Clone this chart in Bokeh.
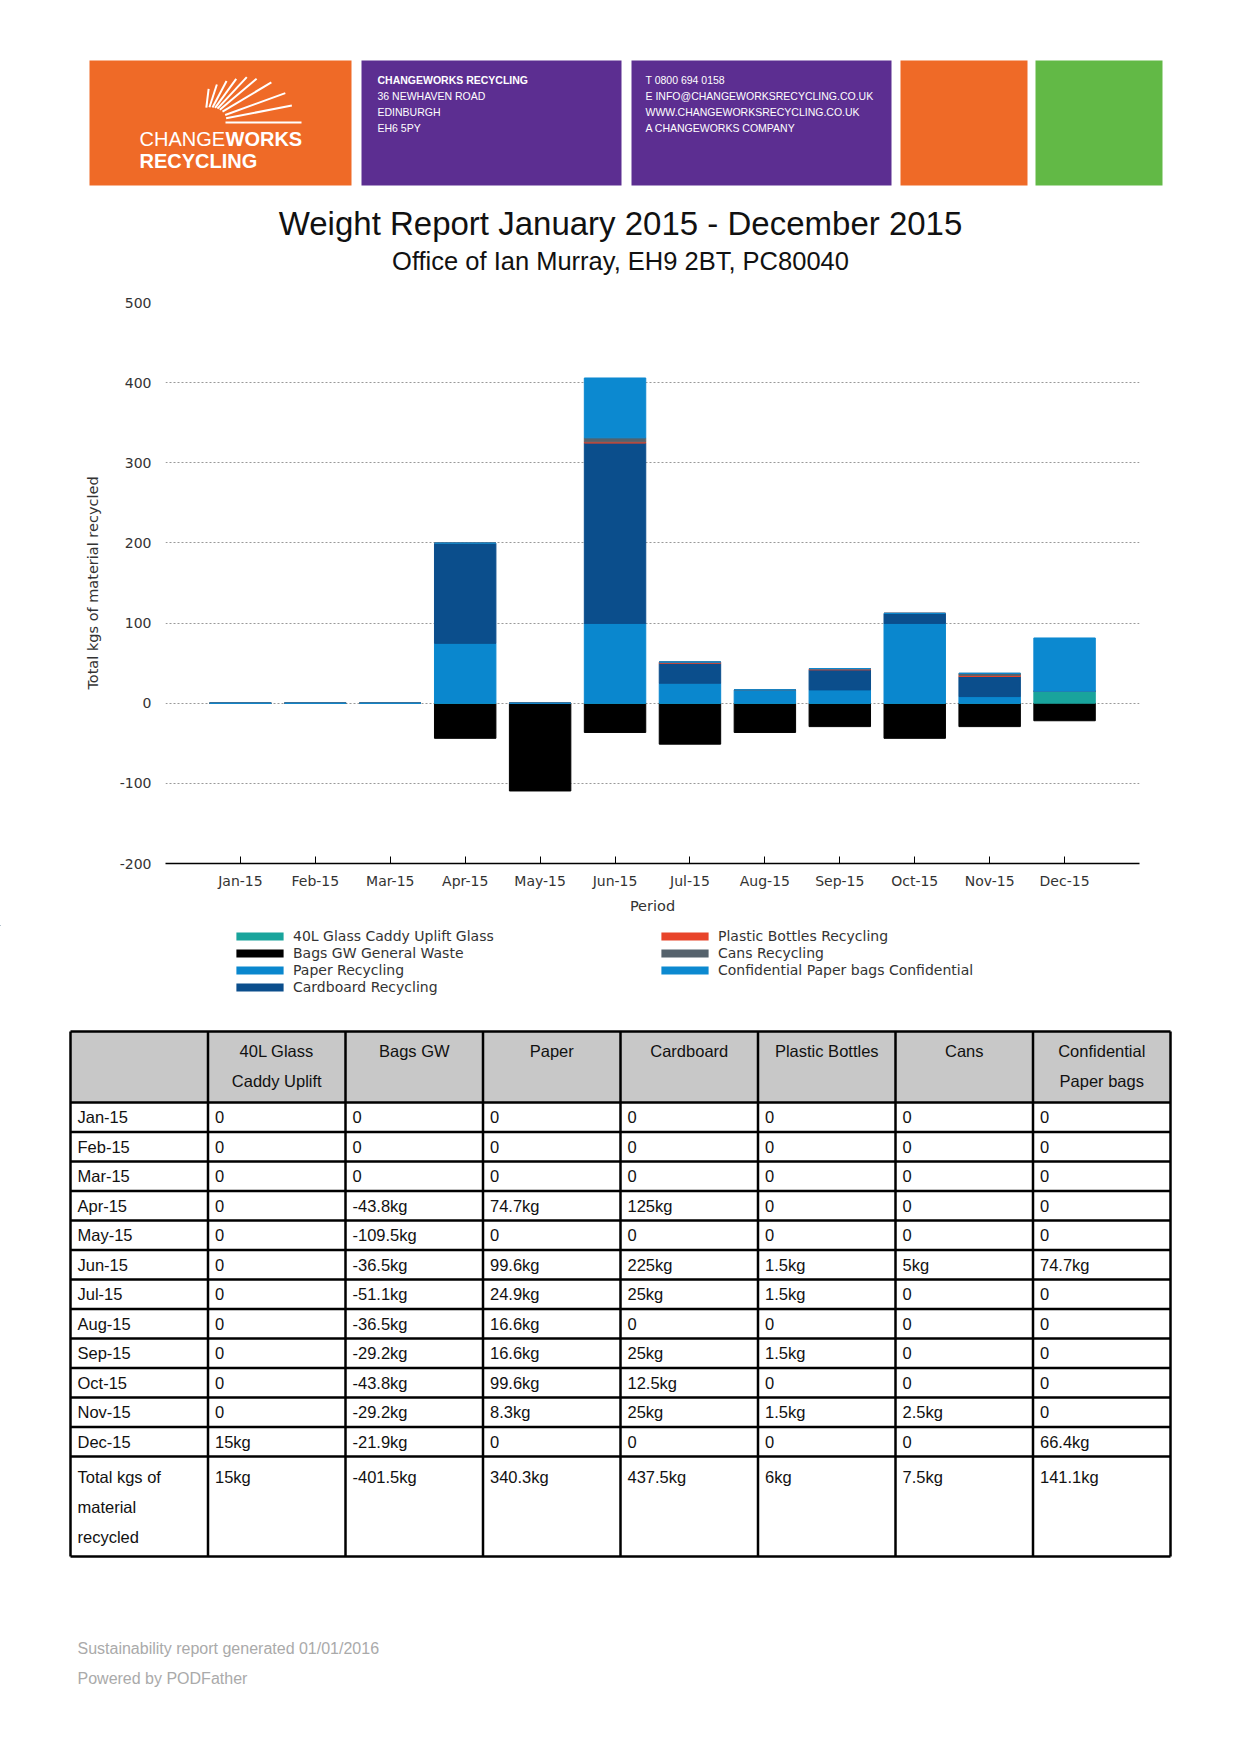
import math
from bokeh.plotting import figure
from bokeh.models import (Range1d, FactorRange, FixedTicker, Legend, LegendItem,
                          ColumnDataSource)
from bokeh.embed import file_html
from bokeh.resources import INLINE
from bokeh.core.properties import value

# ---------------- data ----------------
months = ["Jan-15", "Feb-15", "Mar-15", "Apr-15", "May-15", "Jun-15",
          "Jul-15", "Aug-15", "Sep-15", "Oct-15", "Nov-15", "Dec-15"]
glass = [0, 0, 0, 0, 0, 0, 0, 0, 0, 0, 0, 15]
bags = [0, 0, 0, -43.8, -109.5, -36.5, -51.1, -36.5, -29.2, -43.8, -29.2, -21.9]
paper = [0, 0, 0, 74.7, 0, 99.6, 24.9, 16.6, 16.6, 99.6, 8.3, 0]
cardboard = [0, 0, 0, 125, 0, 225, 25, 0, 25, 12.5, 25, 0]
plastic = [0, 0, 0, 0, 0, 1.5, 1.5, 0, 1.5, 0, 1.5, 0]
cans = [0, 0, 0, 0, 0, 5, 0, 0, 0, 0, 2.5, 0]
confidential = [0, 0, 0, 0, 0, 74.7, 0, 0, 0, 0, 0, 66.4]

y_ticks = [-200, -100, 0, 100, 200, 300, 400, 500]
y_tick_labels = ["-200", "-100", "0", "100", "200", "300", "400", "500"]

series_names = ["40L Glass Caddy Uplift Glass", "Bags GW General Waste",
                "Paper Recycling", "Cardboard Recycling",
                "Plastic Bottles Recycling", "Cans Recycling",
                "Confidential Paper bags Confidential"]
col_glass, col_bags, col_paper, col_card = "#19A49C", "#000000", "#0A87CE", "#0B4E8C"
col_plastic, col_cans, col_conf = "#E8442A", "#55626C", "#0C89D0"
series_colors = [col_glass, col_bags, col_paper, col_card, col_plastic, col_cans, col_conf]

table_head_1 = ["", "40L Glass", "Bags GW", "Paper", "Cardboard",
                "Plastic Bottles", "Cans", "Confidential"]
table_head_2 = ["", "Caddy Uplift", "", "", "", "", "", "Paper bags"]
total_label = ["Total kgs of", "material", "recycled"]

title_text = "Weight Report January 2015 - December 2015"
subtitle_text = "Office of Ian Murray, EH9 2BT, PC80040"
addr_lines = ["CHANGEWORKS RECYCLING", "36 NEWHAVEN ROAD", "EDINBURGH", "EH6 5PY"]
contact_lines = ["T 0800 694 0158", "E INFO@CHANGEWORKSRECYCLING.CO.UK",
                 "WWW.CHANGEWORKSRECYCLING.CO.UK", "A CHANGEWORKS COMPANY"]
footer_lines = ["Sustainability report generated 01/01/2016", "Powered by PODFather"]

W = 1240
SANS = value("Liberation Sans")
CH_FONT = "DejaVu Sans"

def blank(top, bottom):
    f = figure(width=W, height=bottom - top, x_range=Range1d(0, W),
               y_range=Range1d(bottom, top), output_backend="svg",
               toolbar_location=None, min_border=0,
               x_axis_location=None, y_axis_location=None)
    f.grid.visible = False
    f.outline_line_color = None
    f.background_fill_color = "white"
    f.border_fill_color = "white"
    return f

# ---------------- header ----------------
hdr = blank(0, 280)
hdr.quad(left=[89, 361, 631, 900, 1035], right=[351, 621, 891, 1027, 1162],
         top=[60] * 5, bottom=[185] * 5,
         fill_color=["#EF6A27", "#5C2E91", "#5C2E91", "#EF6A27", "#62B946"],
         line_color=None)
# logo rays (decoration)
ox, oy = 204, 122
ray_ang = [0, 11, 20, 31, 40, 47, 54, 62, 72, 83]
ray_out = [97, 89, 86, 78, 68, 62, 54, 47, 40, 34]
ray_in = [21, 22, 22, 21, 20, 19, 18, 17, 16, 15]
x0s, y0s, x1s, y1s = [], [], [], []
for a, ri, ro in zip(ray_ang, ray_in, ray_out):
    r = math.radians(a)
    x0s.append(ox + ri * math.cos(r)); y0s.append(oy - ri * math.sin(r))
    x1s.append(ox + ro * math.cos(r)); y1s.append(oy - ro * math.sin(r))
hdr.segment(x0=x0s, y0=y0s, x1=x1s, y1=y1s, line_color="white", line_width=2)
hdr.text(x=[139], y=[138], text=["CHANGE"], text_font=SANS, text_font_size="20px",
         text_color="white", text_baseline="middle")
hdr.text(x=[225], y=[138], text=["WORKS"], text_font=SANS, text_font_size="20px",
         text_font_style="bold", text_color="white", text_baseline="middle")
hdr.text(x=[139], y=[160], text=["RECYCLING"], text_font=SANS, text_font_size="20px",
         text_font_style="bold", text_color="white", text_baseline="middle")
line_ys = [79, 95, 111, 127]
hdr.text(x=[377], y=[line_ys[0]], text=[addr_lines[0]], text_font=SANS,
         text_font_size="10.5px", text_font_style="bold", text_color="white",
         text_baseline="middle")
hdr.text(x=[377] * 3, y=line_ys[1:], text=addr_lines[1:], text_font=SANS,
         text_font_size="10.5px", text_color="white", text_baseline="middle")
hdr.text(x=[645] * 4, y=line_ys, text=contact_lines, text_font=SANS,
         text_font_size="10.5px", text_color="white", text_baseline="middle")
hdr.text(x=[620], y=[223], text=[title_text], text_font=SANS, text_font_size="33px",
         text_color="#111111", text_align="center", text_baseline="middle")
hdr.text(x=[620], y=[260], text=[subtitle_text], text_font=SANS, text_font_size="25.5px",
         text_color="#111111", text_align="center", text_baseline="middle")

# ---------------- chart ----------------
source = ColumnDataSource(dict(month=months, glass=glass, bags=bags, paper=paper,
                               cardboard=cardboard, plastic=plastic, cans=cans,
                               confidential=confidential))
p = figure(width=W, height=645,
           x_range=FactorRange(factors=months, range_padding=0.5,
                               range_padding_units="absolute"),
           y_range=Range1d(-200, 500), output_backend="svg", toolbar_location=None,
           min_border_left=165, min_border_right=101, min_border_top=22,
           min_border_bottom=62)
p.outline_line_color = None
p.xgrid.visible = False
p.ygrid.grid_line_color = "#999999"
p.ygrid.grid_line_dash = "2 2"
p.ygrid.grid_line_width = 1

bags_r = p.vbar(x="month", top=0, bottom="bags", width=0.82, fill_color=col_bags,
                line_color=col_bags, line_width=1, source=source)
pos_keys = ["glass", "paper", "cardboard", "plastic", "cans", "confidential"]
pos_cols = [col_glass, col_paper, col_card, col_plastic, col_cans, col_conf]
rs = p.vbar_stack(pos_keys, x="month", width=0.82, color=pos_cols, line_width=1,
                  source=source)

p.yaxis.ticker = FixedTicker(ticks=y_ticks)
p.yaxis.major_label_overrides = {t: l for t, l in zip(y_ticks, y_tick_labels)}
p.yaxis.axis_line_color = None
p.yaxis.major_tick_line_color = None
p.yaxis.minor_tick_line_color = None
p.yaxis.major_label_standoff = 8
p.yaxis.axis_label = "Total kgs of material recycled"
p.yaxis.axis_label_standoff = 16
p.xaxis.axis_label = "Period"
p.xaxis.axis_line_color = "black"
p.xaxis.axis_line_width = 1.5
p.xaxis.major_tick_in = 7
p.xaxis.major_tick_out = 0
p.xaxis.major_tick_line_color = "black"
p.xaxis.major_label_standoff = 9
p.xaxis.axis_label_standoff = 6
for ax in (p.xaxis, p.yaxis):
    ax.major_label_text_font = CH_FONT
    ax.major_label_text_font_size = "14px"
    ax.major_label_text_color = "#333333"
    ax.axis_label_text_font = CH_FONT
    ax.axis_label_text_font_size = "14.5px"
    ax.axis_label_text_font_style = "normal"
    ax.axis_label_text_color = "#333333"

# ---------------- legend (own strip under the chart) ----------------
lf = blank(925, 1010)
# legend proxies: one zero-height, fill-only bar each, far outside the visible strip
swatches = [lf.vbar(x=[-5000], top=[-5000], bottom=[-5000], width=1, fill_color=c,
                    line_color=None)
            for c in series_colors]
leg_common = dict(orientation="vertical", border_line_color=None,
                  background_fill_alpha=0, padding=0, margin=0, spacing=1,
                  glyph_width=59, glyph_height=10, label_standoff=4,
                  label_height=16, label_text_font=CH_FONT,
                  label_text_font_size="14px", label_text_color="#333333")
items1 = [LegendItem(label=series_names[i], renderers=[swatches[i]], index=0)
          for i in range(4)]
items2 = [LegendItem(label=series_names[i], renderers=[swatches[i]], index=0)
          for i in range(4, 7)]
lf.add_layout(Legend(items=items1, location=(230, 15), **leg_common))
lf.add_layout(Legend(items=items2, location=(655, 32), **leg_common))

# ---------------- table ----------------
tb = blank(1010, 1740)
n_cols = 8
cw = 137.5
tl, tr = 70, 70 + cw * n_cols
h_top, h_bot = 1031, 1102
rh = 29.5
rows_bot = h_bot + rh * len(months)
t_bot = 1556
tb.quad(left=[tl], right=[tr], top=[h_top], bottom=[h_bot], fill_color="#C8C8C8",
        line_color=None)
vx = [tl + cw * i for i in range(n_cols + 1)]
tb.segment(x0=vx, y0=[h_top] * len(vx), x1=vx, y1=[t_bot] * len(vx),
           line_color="black", line_width=2.5)
hy = [h_top, h_bot] + [h_bot + rh * (k + 1) for k in range(len(months))] + [t_bot]
tb.segment(x0=[tl] * len(hy), y0=hy, x1=[tr] * len(hy), y1=hy,
           line_color="black", line_width=2.5)

centers = [tl + cw * (i + 0.5) for i in range(n_cols)]
tb.text(x=centers, y=[1050] * n_cols, text=table_head_1, text_font=SANS,
        text_font_size="16.5px", text_color="#111111", text_align="center",
        text_baseline="middle")
tb.text(x=centers, y=[1080] * n_cols, text=table_head_2, text_font=SANS,
        text_font_size="16.5px", text_color="#111111", text_align="center",
        text_baseline="middle")

def fmt(v):
    if v == 0:
        return "0"
    return f"{round(v, 1):g}kg"

series = [glass, bags, paper, cardboard, plastic, cans, confidential]
cx, cy, ct = [], [], []
for r, m in enumerate(months):
    yc = h_bot + rh * (r + 0.5)
    cx.append(tl + 7); cy.append(yc); ct.append(m)
    for c, s in enumerate(series):
        cx.append(tl + cw * (c + 1) + 7); cy.append(yc); ct.append(fmt(s[r]))
for k, lab in enumerate(total_label):
    cx.append(tl + 7); cy.append(rows_bot + 20 + 30 * k); ct.append(lab)
for c, s in enumerate(series):
    cx.append(tl + cw * (c + 1) + 7); cy.append(rows_bot + 20); ct.append(fmt(sum(s)))
tb.text(x=cx, y=cy, text=ct, text_font=SANS, text_font_size="16.5px",
        text_color="#111111", text_baseline="middle")

tb.text(x=[77, 77], y=[1648, 1678], text=footer_lines, text_font=SANS,
        text_font_size="16px", text_color="#AAAAAA", text_baseline="middle")

open("out.html", "w").write(file_html([hdr, p, lf, tb], INLINE))
